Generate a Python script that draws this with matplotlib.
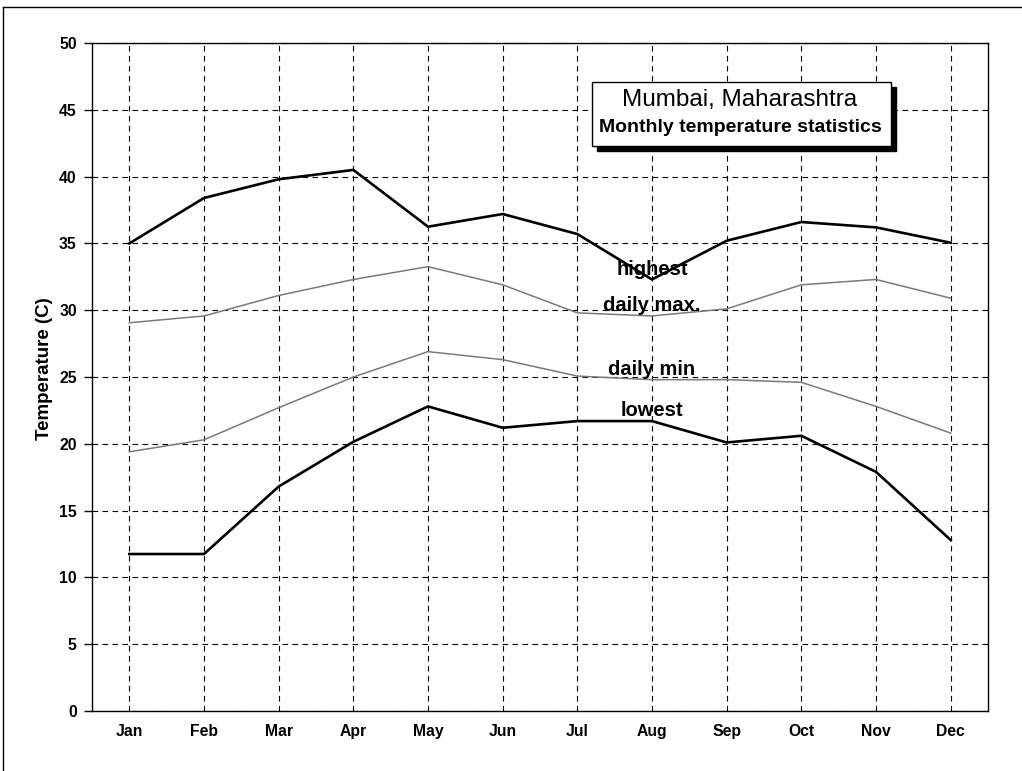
import matplotlib
matplotlib.use("Agg")
import matplotlib.pyplot as plt
from matplotlib.patches import Rectangle
from matplotlib.lines import Line2D

months = ["Jan", "Feb", "Mar", "Apr", "May", "Jun", "Jul", "Aug", "Sep", "Oct", "Nov", "Dec"]
highest = [35.0, 38.4, 39.8, 40.5, 36.25, 37.2, 35.7, 32.3, 35.2, 36.6, 36.2, 35.05]
daily_max = [29.06, 29.57, 31.1, 32.3, 33.26, 31.9, 29.8, 29.57, 30.1, 31.9, 32.3, 30.9]
daily_min = [19.4, 20.3, 22.7, 25.0, 26.9, 26.3, 25.07, 24.8, 24.8, 24.6, 22.8, 20.8]
lowest = [11.75, 11.75, 16.8, 20.15, 22.8, 21.2, 21.7, 21.7, 20.1, 20.6, 17.9, 12.8]
yticks = [0, 5, 10, 15, 20, 25, 30, 35, 40, 45, 50]

W, H = 1022, 771
plt.rcParams['font.family'] = ['Liberation Sans', 'DejaVu Sans']
fig = plt.figure(figsize=(W / 100, H / 100), dpi=100)

def fx(px):
    return px / W

def fy(py):
    return 1 - py / H

ax = fig.add_axes([fx(92), fy(711), fx(988) - fx(92), fy(43) - fy(711)])
x = list(range(len(months)))

ax.plot(x, highest, color="black", lw=1.9, zorder=3)
ax.plot(x, daily_max, color="#7a7a7a", lw=1.1, zorder=3)
ax.plot(x, daily_min, color="#7a7a7a", lw=1.1, zorder=3)
ax.plot(x, lowest, color="black", lw=1.9, zorder=3)

ax.set_xlim(-0.5, 11.5)
ax.set_ylim(0, 50)
ax.set_xticks(x)
ax.set_xticklabels(months, fontsize=11.3, fontweight="bold")
ax.set_yticks(yticks)
ax.set_yticklabels([str(v) for v in yticks], fontsize=11.3, fontweight="bold")
ax.tick_params(axis="y", length=6, width=1, pad=5)
ax.tick_params(axis="x", length=0, pad=9.5)
ax.grid(True, color="black", linestyle=(0, (5, 4)), lw=0.8)
ax.set_axisbelow(True)
for s in ax.spines.values():
    s.set_linewidth(1.0)
ax.set_ylabel("Temperature (C)", fontsize=13.5, fontweight="bold")
ax.yaxis.set_label_coords(-0.043, 0.512)

lab_kw = dict(fontsize=14.5, fontweight="bold", ha="center", va="baseline", zorder=4)
ax.text(7.0, 32.63, "highest", **lab_kw)
ax.text(7.0, 29.94, "daily max.", **lab_kw)
ax.text(7.0, 25.15, "daily min", **lab_kw)
ax.text(7.0, 22.08, "lowest", **lab_kw)

# title box with shadow
bx0, bx1, by0, by1 = 592, 891, 82, 146
off = 5
fig.add_artist(Rectangle((fx(bx0 + off), fy(by1 + off)), fx(bx1) - fx(bx0), fy(by0) - fy(by1),
                         transform=fig.transFigure, facecolor="black", edgecolor="black", zorder=5))
fig.add_artist(Rectangle((fx(bx0), fy(by1)), fx(bx1) - fx(bx0), fy(by0) - fy(by1),
                         transform=fig.transFigure, facecolor="white", edgecolor="black", lw=1.0, zorder=6))
fig.text(fx(740), fy(100), "Mumbai, Maharashtra", fontsize=17.5, ha="center", va="center", zorder=7)
fig.text(fx(740), fy(128), "Monthly temperature statistics", fontsize=14, fontweight="bold",
         ha="center", va="center", zorder=7)

# outer frame (top and left edges)
fig.add_artist(Line2D([fx(3), fx(3)], [fy(7), 0], transform=fig.transFigure, color="black", lw=1.0))
fig.add_artist(Line2D([fx(3), 1], [fy(7), fy(7)], transform=fig.transFigure, color="black", lw=1.0))

fig.savefig("out.png", dpi=100)
